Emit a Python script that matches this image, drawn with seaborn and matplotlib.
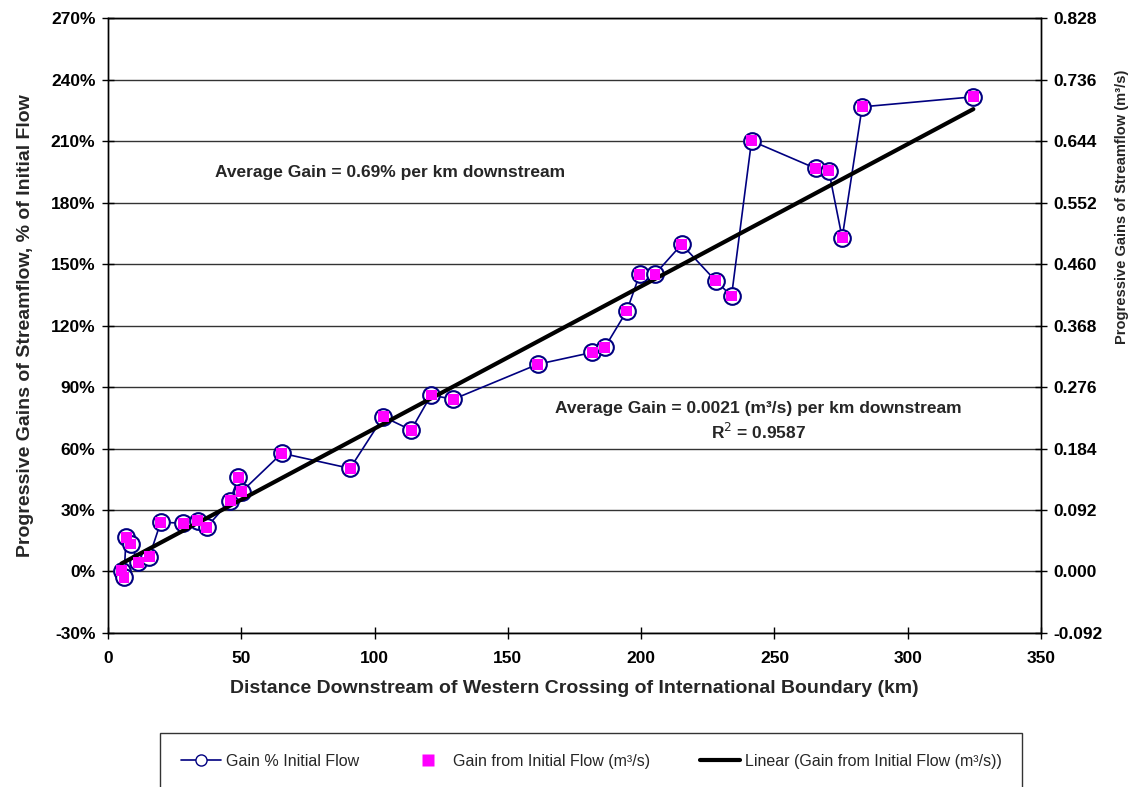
import numpy as np
import pandas as pd
import matplotlib
matplotlib.use("Agg")
import matplotlib.pyplot as plt
from matplotlib.lines import Line2D
import seaborn as sns

# ---- data ----
distance_km = [5.1, 6.0, 6.8, 8.5, 11.4, 15.5, 19.8, 28.3, 33.6, 37.0, 45.8, 48.9,
               50.1, 65.2, 90.8, 103.3, 113.7, 121.2, 129.5, 161.2, 181.7, 186.4,
               194.6, 199.5, 205.2, 215.2, 227.9, 233.9, 241.4, 265.4, 270.4, 275.4,
               282.9, 324.6]
gain_pct = [0.4, -2.8, 16.7, 13.4, 4.5, 7.2, 24.1, 23.5, 24.8, 21.6, 34.5, 46.0,
            38.9, 57.7, 50.3, 75.5, 69.0, 86.1, 84.0, 101.1, 106.9, 109.4,
            127.1, 145.1, 145.1, 159.6, 141.9, 134.4, 210.1, 196.7, 195.4, 162.8,
            226.7, 231.6]
gain_m3s = [0.0012, -0.0086, 0.0512, 0.0411, 0.0138, 0.0221, 0.0739, 0.0721, 0.0761,
            0.0662, 0.1058, 0.1411, 0.1193, 0.1770, 0.1543, 0.2316, 0.2116, 0.2641,
            0.2576, 0.3101, 0.3279, 0.3355, 0.3898, 0.4450, 0.4450, 0.4895, 0.4352,
            0.4122, 0.6444, 0.6033, 0.5993, 0.4993, 0.6953, 0.7103]
left_ticks = [-30, 0, 30, 60, 90, 120, 150, 180, 210, 240, 270]
right_ticks = [-0.092, 0.000, 0.092, 0.184, 0.276, 0.368, 0.460, 0.552, 0.644, 0.736, 0.828]
x_ticks = [0, 50, 100, 150, 200, 250, 300, 350]

df = pd.DataFrame({"dist": distance_km, "pct": gain_pct, "m3s": gain_m3s})

sns.set_theme(style="white")
plt.rcParams["font.family"] = ["Liberation Sans", "DejaVu Sans"]

fig = plt.figure(figsize=(11.39, 7.87), dpi=100)
ax = fig.add_axes([0.0948, 0.1957, 0.8192, 0.7813])
ax2 = ax.twinx()

NAVY = "#000080"
MAG = "#FF00FF"

# Left axis: percent series
sns.lineplot(data=df, x="dist", y="pct", ax=ax, color=NAVY, lw=1.2, sort=False,
             marker="o", markersize=12, markerfacecolor="white",
             markeredgecolor=NAVY, markeredgewidth=1.5, zorder=3)

# Right axis: m3/s series and linear trend
sns.regplot(data=df, x="dist", y="m3s", ax=ax2, ci=None, scatter=False,
            color="black", line_kws={"lw": 3, "zorder": 2})
sns.scatterplot(data=df, x="dist", y="m3s", ax=ax2, marker="s", s=62,
                color=MAG, edgecolor="none", zorder=4)

ax.set_zorder(1)
ax.patch.set_visible(False)
ax2.set_zorder(2)
ax2.patch.set_visible(False)

ax.set_xlim(0, 350)
ax.set_ylim(-30, 270)
ax2.set_ylim(-0.092, 0.828)
ax.set_xticks(x_ticks)
ax.set_yticks(left_ticks)
ax.set_yticklabels([f"{t}%" for t in left_ticks])
ax2.set_yticks(right_ticks)
ax2.set_yticklabels([f"{t:.3f}" for t in right_ticks])

for a in (ax, ax2):
    for s in a.spines.values():
        s.set_color("black")
        s.set_linewidth(1)
    a.tick_params(direction="inout", length=8, width=1, colors="black",
                  labelsize=12.5)
    for lab in a.get_xticklabels() + a.get_yticklabels():
        lab.set_fontweight("bold")
ax.tick_params(axis="y", left=True, pad=5)
ax.tick_params(axis="x", bottom=True, pad=9)
ax2.tick_params(axis="y", right=True, pad=5)

ax.yaxis.grid(True, color="#333333", lw=1)
ax.xaxis.grid(False)
ax.set_axisbelow(True)

ax.set_xlabel("Distance Downstream of Western Crossing of International Boundary (km)",
              fontsize=14, fontweight="bold", labelpad=10)
ax.set_ylabel("Progressive Gains of Streamflow, % of Initial Flow",
              fontsize=14, fontweight="bold", labelpad=12)
ax2.set_ylabel("Progressive Gains of Streamflow (m³/s)",
               fontsize=10.5, fontweight="bold")
ax2.yaxis.set_label_coords(1.0795, 0.693)

ax.text(40, 194.5, "Average Gain = 0.69% per km downstream",
        fontsize=12.5, fontweight="bold", ha="left", va="center")
ax.text(244, 79.5, "Average Gain = 0.0021 (m³/s) per km downstream",
        fontsize=12.5, fontweight="bold", ha="center", va="center")
ax.text(244, 68, "R$^2$ = 0.9587",
        fontsize=12.5, fontweight="bold", ha="center", va="center")

handles = [
    Line2D([0], [0], color=NAVY, lw=1.2, marker="o", markersize=8,
           markerfacecolor="white", markeredgecolor=NAVY),
    Line2D([0], [0], color="none", marker="s", markersize=8,
           markerfacecolor=MAG, markeredgecolor="none"),
    Line2D([0], [0], color="black", lw=3),
]
labels = ["Gain % Initial Flow", "Gain from Initial Flow (m³/s)",
          "Linear (Gain from Initial Flow (m³/s))"]
leg = fig.legend(handles, labels, loc="upper left",
                 bbox_to_anchor=(0.1405, 0.0686, 0.757, 0.0), mode="expand",
                 ncol=3, fontsize=11.5, frameon=True, fancybox=False,
                 edgecolor="black", borderpad=1.3, borderaxespad=0,
                 handlelength=2.5, handletextpad=0.3, columnspacing=1.0)
leg.get_frame().set_linewidth(1)

fig.savefig("out.png", dpi=100)
